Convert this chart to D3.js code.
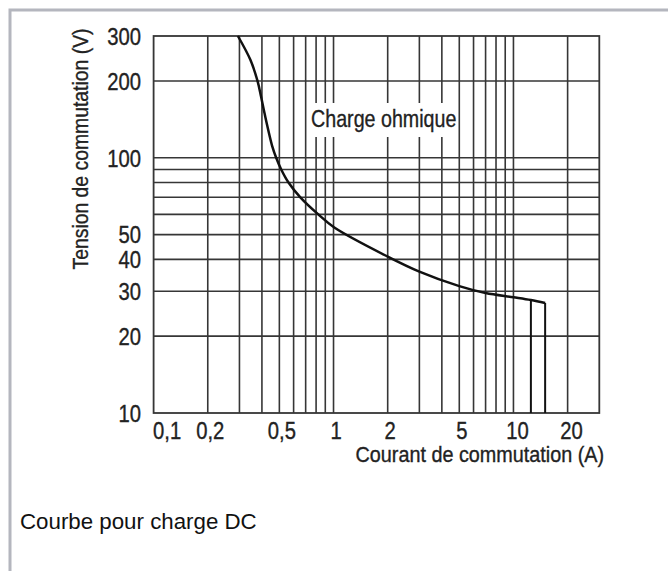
<!DOCTYPE html>
<html>
<head>
<meta charset="utf-8">
<script src="https://cdn.jsdelivr.net/npm/d3@7"></script>
<style>
  html, body { margin: 0; padding: 0; background: #fff; }
  svg { display: block; }
  .cond { font-family: "Liberation Sans", Arial, sans-serif; fill: #222; stroke: #222; stroke-width: 0.35px; }
</style>
</head>
<body>
<svg id="chart" width="668" height="571"></svg>
<script>
// ---- data ----
const xTicks = [0.1, 0.2, 0.5, 1, 2, 5, 10, 20];
const yTicks = [10, 20, 30, 40, 50, 100, 200, 300];
const xGrid = [0.2, 0.3, 0.4, 0.5, 0.6, 0.7, 0.8, 0.9, 1, 2, 3, 4, 5, 6, 7, 8, 9, 10, 20];
const yGrid = [20, 30, 40, 50, 60, 70, 80, 90, 100, 200];
const current = [0.294, 0.345, 0.378, 0.396, 0.413, 0.458, 0.48, 0.512, 0.562, 0.654, 0.823, 1.01, 2, 3, 5, 7, 10, 12.5, 15];
const voltage = [300, 242, 200, 173, 150, 110, 100, 90, 80, 70, 60, 53.3, 41.0, 35.8, 31.4, 29.5, 28.4, 27.7, 27.0];
const dropLines = [12.5, 15];
const curveLabel = "Charge ohmique";
const xTitle = "Courant de commutation (A)";
const yTitle = "Tension de commutation (V)";
const caption = "Courbe pour charge DC";

// ---- layout ----
const svg = d3.select("#chart");
const L = 153.6, R = 599.3, T = 36, B = 413;
const x = d3.scaleLog().domain([0.1, 30]).range([L, R]);
const y = d3.scaleLog().domain([10, 300]).range([B, T]);
const gridColor = "#363636";
const fmt = d => String(d).replace(".", ",");
const tickScale = 0.88;

svg.append("rect").attr("width", 668).attr("height", 571).attr("fill", "#fff");
svg.append("rect").attr("x", 10).attr("y", 10).attr("width", 720).attr("height", 620)
  .attr("fill", "none").attr("stroke", "#b4b6be").attr("stroke-width", 3);

const g = svg.append("g");
g.selectAll("line.h").data(yGrid).join("line")
  .attr("x1", L).attr("x2", R).attr("y1", d => y(d)).attr("y2", d => y(d))
  .attr("stroke", gridColor).attr("stroke-width", 1.6);
g.selectAll("line.v").data(xGrid).join("line")
  .attr("y1", T).attr("y2", B).attr("x1", d => x(d)).attr("x2", d => x(d))
  .attr("stroke", gridColor).attr("stroke-width", 1.6);
g.append("rect").attr("x", L).attr("y", T).attr("width", R - L).attr("height", B - T)
  .attr("fill", "none").attr("stroke", gridColor).attr("stroke-width", 1.8);

// axes (labels only)
const xAxis = d3.axisBottom(x).tickValues(xTicks).tickFormat(fmt).tickSize(0).tickPadding(0);
const gx = svg.append("g").attr("transform", `translate(0,${B})`).call(xAxis);
gx.select(".domain").remove();
gx.selectAll("text").attr("class", "cond").attr("font-size", 23).attr("fill", "#222")
  .attr("y", 26).attr("dy", 0)
  .attr("x", d => (d === 0.1 ? 13 : (d >= 10 ? 3.5 : 2)) / tickScale)
  .attr("transform", `scale(${tickScale},1)`);

const yAxis = d3.axisLeft(y).tickValues(yTicks).tickFormat(fmt).tickSize(0).tickPadding(0);
const gy = svg.append("g").attr("transform", `translate(${L},0)`).call(yAxis);
gy.select(".domain").remove();
gy.selectAll("text").attr("class", "cond").attr("font-size", 23).attr("fill", "#222")
  .attr("x", -12.5 / tickScale).attr("dy", "0.36em")
  .attr("transform", `scale(${tickScale},1)`);

// label with white box
const lbl = svg.append("g");
lbl.append("rect").attr("x", 310).attr("y", 103).attr("width", 148).attr("height", 34).attr("fill", "#fff");
lbl.append("text").attr("class", "cond").attr("font-size", 24)
  .attr("transform", "translate(311,127) scale(0.82,1)").text(curveLabel);

// curve
const pts = current.map((c, i) => [c, voltage[i]]);
const line = d3.line().x(d => x(d[0])).y(d => y(d[1])).curve(d3.curveCatmullRom.alpha(0.5));
svg.append("path").attr("d", line(pts)).attr("fill", "none").attr("stroke", "#111")
  .attr("stroke-width", 2.5).attr("stroke-linejoin", "round");
const vAt = c => voltage[current.indexOf(c)];
svg.selectAll("line.drop").data(dropLines).join("line")
  .attr("x1", d => x(d)).attr("x2", d => x(d)).attr("y1", d => y(vAt(d))).attr("y2", B)
  .attr("stroke", "#111").attr("stroke-width", 2);

// titles
svg.append("text").attr("class", "cond").attr("font-size", 22).attr("text-anchor", "end")
  .attr("transform", "translate(604,462) scale(0.9,1)").text(xTitle);
svg.append("text").attr("class", "cond").attr("font-size", 22).attr("text-anchor", "middle")
  .attr("transform", "translate(88,149) rotate(-90) scale(0.88,1)").text(yTitle);

svg.append("text").attr("x", 20).attr("y", 529).attr("font-size", 22.3)
  .attr("font-family", "'Liberation Sans', Arial, sans-serif").attr("fill", "#111").text(caption);
</script>
</body>
</html>
